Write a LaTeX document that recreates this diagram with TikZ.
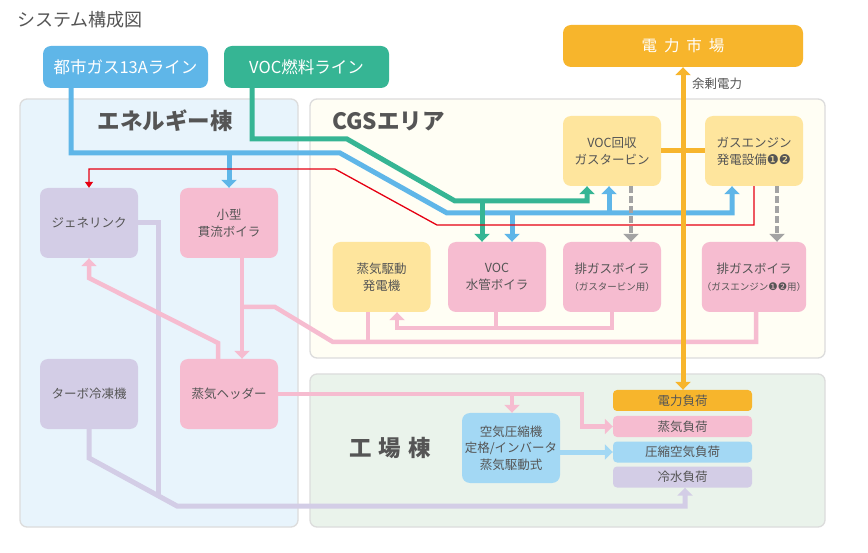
\documentclass[tikz,border=0pt]{standalone}
\usepackage{fontspec}
\setmainfont{Noto Sans CJK JP}
\newfontfamily\dv{DejaVu Sans}
\usetikzlibrary{arrows.meta}
\definecolor{txt}{HTML}{555555}
\definecolor{gasblue}{HTML}{5FB6E8}
\definecolor{vocgreen}{HTML}{36B594}
\definecolor{orng}{HTML}{F7B52C}
\definecolor{pinkc}{HTML}{F6BCD0}
\definecolor{yelc}{HTML}{FEE59D}
\definecolor{lavc}{HTML}{D3CDE6}
\definecolor{skyc}{HTML}{A3D8F4}
\definecolor{epfill}{HTML}{E8F4FC}
\definecolor{cgsfill}{HTML}{FFFEF4}
\definecolor{facfill}{HTML}{EAF3EB}
\definecolor{pborder}{HTML}{DCDCDC}
\definecolor{grayc}{HTML}{A3A3A3}
\definecolor{redc}{HTML}{E60012}
\newcommand{\cn}[1]{{\dv\fontsize{13.5}{12}\selectfont #1}}
\begin{document}
\begin{tikzpicture}[x=1pt,y=-1pt,
  box/.style={rounded corners=8pt, minimum width=98pt, minimum height=70pt, inner sep=0pt, align=center, text=txt, font=\fontsize{12.5}{17}\selectfont},
  pinkbox/.style={box, fill=pinkc},
  yelbox/.style={box, fill=yelc},
  lavbox/.style={box, fill=lavc},
  skybox/.style={box, fill=skyc},
  loadbox/.style={rounded corners=4pt, minimum width=139pt, minimum height=21pt, inner sep=0pt, text=txt, font=\fontsize{12.5}{15}\selectfont},
  linebox/.style={rounded corners=8pt, minimum width=165pt, minimum height=42pt, inner sep=0pt, text=white, font=\fontsize{16.5}{18}\selectfont},
  panel/.style={rounded corners=7pt, draw=pborder, line width=1.3pt, inner sep=0pt},
  ptitle/.style={text=txt, font=\fontsize{22.5}{24}\selectfont\bfseries, inner sep=0pt},
  arr/.style={-{Triangle[width=15pt,length=8pt]}},
  gasl/.style={draw=gasblue, line width=5pt},
  vocl/.style={draw=vocgreen, line width=5pt},
  steaml/.style={draw=pinkc, line width=4.5pt},
  coldl/.style={draw=lavc, line width=5pt},
  exhl/.style={draw=grayc, line width=4.5pt, dash pattern=on 7pt off 3pt},
  redl/.style={draw=redc, line width=1.3pt},
  pwrl/.style={draw=orng, line width=5pt}
]
\useasboundingbox (0,0) rectangle (868,553);
\fill[white] (0,0) rectangle (868,553);

% panels
\node[panel, fill=epfill, minimum width=278pt, minimum height=428pt] (epanel) at (159,313) {};
\node[panel, fill=cgsfill, minimum width=515pt, minimum height=259pt] (cpanel) at (567.5,228.5) {};
\node[panel, fill=facfill, minimum width=515pt, minimum height=153pt] (fpanel) at (567.5,450.5) {};

\node[text=txt, font=\fontsize{18}{20}\selectfont, anchor=west, inner sep=0pt] (title) at (17,20) {システム構成図};
\node[ptitle] (etitle) at (165,121) {エネルギー棟};
\node[ptitle, anchor=west] (ctitle) at (332,121) {CGSエリア};
\node[ptitle] (ftitle) at (390,448) {工\hspace{0.3em}場\hspace{0.3em}棟};

% top boxes
\node[linebox, fill=gasblue] (gasline) at (125.5,67) {都市ガス13Aライン};
\node[linebox, fill=vocgreen] (vocline) at (306.5,67) {VOC燃料ライン};
\node[linebox, fill=orng, minimum width=240pt, font=\fontsize{15.5}{18}\selectfont] (market) at (683,46) {電\hspace{0.45em}力\hspace{0.45em}市\hspace{0.45em}場};

% energy building
\node[lavbox] (genelink) at (89,223) {ジェネリンク};
\node[pinkbox] (boiler) at (229,223) {小型\\貫流ボイラ};
\node[lavbox] (turbo) at (89,394) {ターボ冷凍機};
\node[pinkbox] (header) at (229,394) {蒸気ヘッダー};

% CGS area
\node[yelbox] (vocgt) at (612,151) {VOC回収\\ガスタービン};
\node[yelbox] (ge) at (754,151) {ガスエンジン\\発電設備\cn{❶❷}};
\node[yelbox] (steamgen) at (381.5,277) {蒸気駆動\\発電機};
\node[pinkbox] (vocboiler) at (497,277) {VOC\\水管ボイラ};
\node[pinkbox] (exgt) at (612,277) {排ガスボイラ\\{\fontsize{9.5}{12}\selectfont （ガスタービン用）}};
\node[pinkbox] (exge) at (754,277) {排ガスボイラ\\{\fontsize{9.5}{12}\selectfont （ガスエンジン{\dv\fontsize{10.5}{12}\selectfont ❶❷}用）}};

% factory
\node[skybox, font=\fontsize{12.5}{16.5}\selectfont] (aircomp) at (511,448) {空気圧縮機\\定格/インバータ\\蒸気駆動式};
\node[loadbox, fill=orng] (pload) at (682.5,400.5) {電力負荷};
\node[loadbox, fill=pinkc] (sload) at (682.5,426.5) {蒸気負荷};
\node[loadbox, fill=skyc] (aload) at (682.5,452) {圧縮空気負荷};
\node[loadbox, fill=lavc] (cload) at (682.5,477) {冷水負荷};

% chilled water lines
\path[coldl] (genelink.east) -- (158,223) -- (158,496);
\path[coldl, arr] (turbo.south -| 89,0) -- (89,458) -- (177,506) -- (685,506) -- (cload.south -| 685,0);

% steam lines
\path[steaml, arr] (boiler.south -| 242,0) -- (header.north -| 242,0);
\path[steaml] (exge.south -| 756,0) -- (756,342) -- (333,342) -- (275,307) -- (242,307);
\path[steaml] (steamgen.south -| 368,0) -- (368,342);
\path[steaml] (vocboiler.south -| 496,0) -- (496,328);
\path[steaml, arr] (exgt.south -| 612,0) -- (612,328) -- (397,328) -- (steamgen.south -| 397,0);
\path[steaml, arr] (header.north -| 218,0) -- (218,343) -- (89,278) -- (genelink.south -| 89,0);
\path[steaml, arr] (header.east) -- (582,394) -- (582,426.5) -- (sload.west);
\path[steaml, arr] (512,394) -- (aircomp.north -| 512,0);

% compressed air
\path[draw=skyc, line width=5pt, arr] (aircomp.east |- aload.west) -- (aload.west);

% gas line
\path[gasl, arr] (gasline.south -| 71,0) -- (71,153) -- (340,153) -- (447,213) -- (732,213) -- (ge.south -| 732,0);
\path[gasl, arr] (229,153) -- (boiler.north);
\path[gasl, arr] (609,213) -- (vocgt.south -| 609,0);
\path[gasl, arr] (512,213) -- (vocboiler.north -| 512,0);

% VOC fuel line
\path[vocl, arr] (vocline.south -| 252,0) -- (252,139) -- (347,139) -- (455,201) -- (587,201) -- (vocgt.south -| 587,0);
\path[vocl, arr] (482,201) -- (vocboiler.north -| 482,0);

% red line
\path[redl, -{Triangle[width=8pt,length=6pt]}] (ge.south -| 754,0) -- (754,225) -- (437,225) -- (335,169) -- (89,169) -- (genelink.north -| 89,0);

% exhaust
\path[exhl, arr] (vocgt.south -| 631,0) -- (exgt.north -| 631,0);
\path[exhl, arr] (ge.south -| 777,0) -- (exge.north -| 777,0);

% power
\path[pwrl, {Triangle[width=15pt,length=8pt]}-{Triangle[width=15pt,length=8pt]}] (market.south) -- (market.south |- pload.north);
\path[pwrl] (vocgt.east) -- (ge.west);
\node[text=txt, font=\fontsize{12.5}{14}\selectfont, anchor=west, inner sep=0pt] (surplus) at (692,84) {余剰電力};
\end{tikzpicture}
\end{document}
